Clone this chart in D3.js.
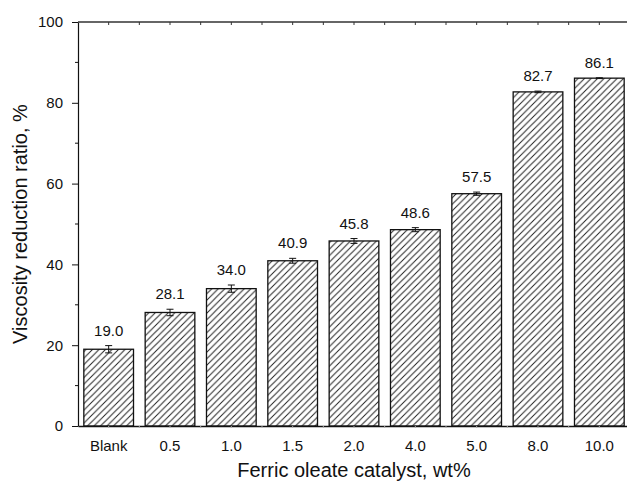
<!DOCTYPE html>
<html>
<head>
<meta charset="utf-8">
<script src="https://cdn.jsdelivr.net/npm/d3@7"></script>
<style>
  body { margin: 0; background: #fff; }
  svg { display: block; font-family: "Liberation Sans", Arial, sans-serif; }
</style>
</head>
<body>
<div id="chart"></div>
<script>
const categories = ["Blank", "0.5", "1.0", "1.5", "2.0", "4.0", "5.0", "8.0", "10.0"];
const values = [19.0, 28.1, 34.0, 40.9, 45.8, 48.6, 57.5, 82.7, 86.1];
const errors = [0.9, 0.8, 0.9, 0.6, 0.6, 0.5, 0.4, 0.2, 0.1];
const yTicks = [0, 20, 40, 60, 80, 100];
const yMinorTicks = [10, 30, 50, 70, 90];

const data = categories.map((c, i) => ({ cat: c, value: values[i], err: errors[i] }));

const W = 627, H = 484;
const plotLeft = 78, plotRight = 630, plotTop = 22, plotBottom = 426;

const svg = d3.select("#chart").append("svg")
  .attr("width", W)
  .attr("height", H);

// hatch pattern
const defs = svg.append("defs");
defs.append("pattern")
  .attr("id", "hatch")
  .attr("patternUnits", "userSpaceOnUse")
  .attr("width", 6.5)
  .attr("height", 6.5)
  .append("path")
  .attr("d", "M-1,1 l2,-2 M0,6.5 l6.5,-6.5 M5.5,7.5 l2,-2")
  .attr("stroke", "#222")
  .attr("stroke-width", 1);

const x = d3.scaleBand()
  .domain(categories)
  .range([plotLeft, plotRight])
  .paddingInner(0.19)
  .paddingOuter(0.095);

const y = d3.scaleLinear()
  .domain([0, 100])
  .range([plotBottom, plotTop]);

// bars
svg.selectAll("rect.bar")
  .data(data)
  .enter()
  .append("rect")
  .attr("class", "bar")
  .attr("x", d => x(d.cat))
  .attr("y", d => y(d.value))
  .attr("width", x.bandwidth())
  .attr("height", d => y(0) - y(d.value))
  .attr("fill", "url(#hatch)")
  .attr("stroke", "#111")
  .attr("stroke-width", 1.3);

// error bars
const eb = svg.selectAll("g.err")
  .data(data)
  .enter()
  .append("g")
  .attr("class", "err")
  .attr("transform", d => `translate(${x(d.cat) + x.bandwidth() / 2},0)`);

eb.append("line")
  .attr("y1", d => y(d.value - d.err))
  .attr("y2", d => y(d.value + d.err))
  .attr("stroke", "#111");
eb.append("line")
  .attr("x1", -3.5).attr("x2", 3.5)
  .attr("y1", d => y(d.value + d.err))
  .attr("y2", d => y(d.value + d.err))
  .attr("stroke", "#111");
eb.append("line")
  .attr("x1", -3.5).attr("x2", 3.5)
  .attr("y1", d => y(d.value - d.err))
  .attr("y2", d => y(d.value - d.err))
  .attr("stroke", "#111");

// value labels
svg.selectAll("text.val")
  .data(data)
  .enter()
  .append("text")
  .attr("class", "val")
  .attr("x", d => x(d.cat) + x.bandwidth() / 2)
  .attr("y", d => y(d.value + d.err) - 10)
  .attr("text-anchor", "middle")
  .attr("font-size", 15)
  .attr("fill", "#111")
  .text(d => d.value.toFixed(1));

// y axis
const yAxis = svg.append("g")
  .attr("transform", `translate(${plotLeft},0)`)
  .call(d3.axisLeft(y).tickValues(yTicks).tickSize(6).tickPadding(9).tickSizeOuter(0));
yAxis.selectAll("text").attr("font-size", 15).attr("fill", "#111").attr("font-family", "Liberation Sans, Arial, sans-serif");
yAxis.select(".domain").attr("stroke", "#111").attr("stroke-width", 1.2);
yAxis.selectAll(".tick line").attr("stroke", "#111");

svg.append("g")
  .selectAll("line")
  .data(yMinorTicks)
  .enter()
  .append("line")
  .attr("x1", plotLeft - 3)
  .attr("x2", plotLeft)
  .attr("y1", d => y(d))
  .attr("y2", d => y(d))
  .attr("stroke", "#111");

// bottom axis
const xAxis = svg.append("g")
  .attr("transform", `translate(0,${plotBottom})`)
  .call(d3.axisBottom(x).tickSize(0).tickPadding(14).tickSizeOuter(0));
xAxis.select(".domain").attr("stroke", "#111").attr("stroke-width", 1.3);
xAxis.selectAll("text").attr("font-size", 15).attr("fill", "#111").attr("font-family", "Liberation Sans, Arial, sans-serif");

// small ticks at centers and boundaries on top and bottom
const tickXs = [];
categories.forEach(c => {
  tickXs.push(x(c) + x.bandwidth() / 2);
  tickXs.push(x(c) + x.bandwidth() + x.step() * x.paddingInner() / 2);
});
svg.append("g").selectAll("line")
  .data(tickXs)
  .enter()
  .append("line")
  .attr("x1", d => d).attr("x2", d => d)
  .attr("y1", plotTop).attr("y2", plotTop + 3)
  .attr("stroke", "#333");
svg.append("g").selectAll("line")
  .data(tickXs)
  .enter()
  .append("line")
  .attr("x1", d => d).attr("x2", d => d)
  .attr("y1", plotBottom).attr("y2", plotBottom + 2)
  .attr("stroke", "#aaa");

// top frame line
svg.append("line")
  .attr("x1", plotLeft).attr("x2", plotRight)
  .attr("y1", plotTop).attr("y2", plotTop)
  .attr("stroke", "#333")
  .attr("stroke-width", 1.3);

// axis titles
svg.append("text")
  .attr("x", 354)
  .attr("y", 477)
  .attr("text-anchor", "middle")
  .attr("font-size", 20)
  .attr("fill", "#111")
  .text("Ferric oleate catalyst, wt%");

svg.append("text")
  .attr("transform", `translate(27,${(plotTop + plotBottom) / 2}) rotate(-90)`)
  .attr("text-anchor", "middle")
  .attr("font-size", 20)
  .attr("fill", "#111")
  .text("Viscosity reduction ratio, %");
</script>
</body>
</html>
